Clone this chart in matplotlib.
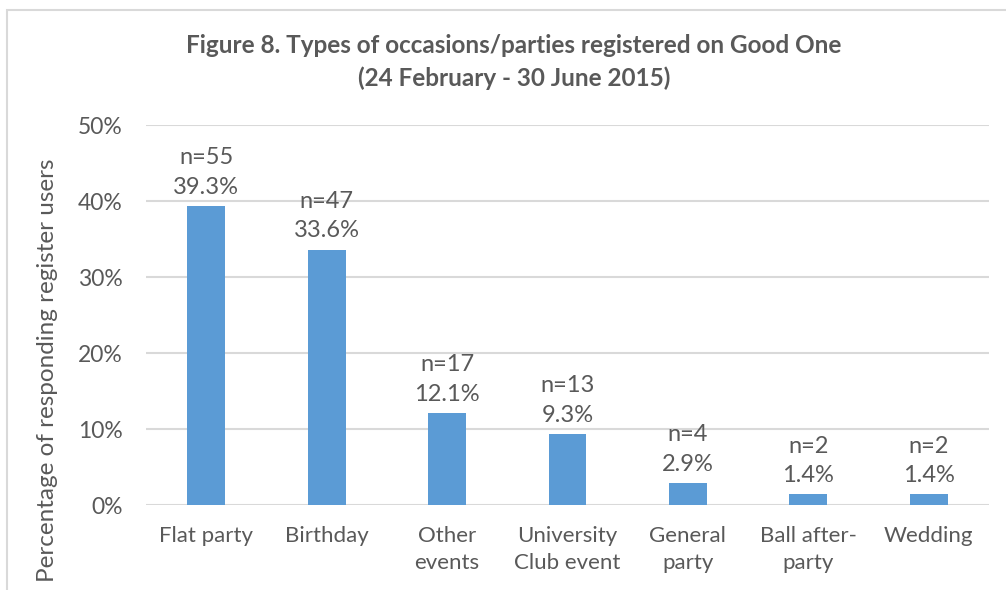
import matplotlib
matplotlib.use("Agg")
import matplotlib.pyplot as plt
from matplotlib.patches import Rectangle

# Chart data
categories = ["Flat party", "Birthday", "Other\nevents", "University\nClub event",
              "General\nparty", "Ball after-\nparty", "Wedding"]
percentages = [39.3, 33.6, 12.1, 9.3, 2.9, 1.4, 1.4]
counts = [55, 47, 17, 13, 4, 2, 2]
y_ticks = [0, 10, 20, 30, 40, 50]

title = "Figure 8. Types of occasions/parties registered on Good One\n(24 February - 30 June 2015)"
y_label = "Percentage of responding register users"

bar_color = "#5B9BD5"
text_color = "#595959"
grid_color = "#D9D9D9"
font = "Lato"

fig = plt.figure(figsize=(10.06, 5.90), dpi=100)
W, H = 1006, 590

# light chart frame (cropped on the right and bottom)
fig.patches.append(Rectangle((7 / W, -0.1), 1.2, 1.1 - 10 / H, transform=fig.transFigure,
                             fill=False, edgecolor="#D9D9D9", linewidth=1.5))

# plot area in pixels: x 146..989, y 125..505
ax = fig.add_axes([146 / W, 1 - 505 / H, (989 - 146) / W, (505 - 125) / H])

x = list(range(len(categories)))
ax.bar(x, percentages, width=0.315, color=bar_color, zorder=3)

ax.set_xlim(-0.5, len(categories) - 0.5)
ax.set_ylim(0, 50)
ax.set_yticks(y_ticks)
ax.set_yticklabels([f"{t}%" for t in y_ticks], fontsize=16.5, color=text_color, family=font)
ax.set_xticks(x)
ax.set_xticklabels(categories, fontsize=16, color=text_color, family=font, linespacing=1.45)
ax.tick_params(axis="both", length=0)
ax.tick_params(axis="y", pad=17)
ax.tick_params(axis="x", pad=15)
ax.yaxis.grid(True, color=grid_color, linewidth=1.5, zorder=0)
for side in ["top", "right", "left", "bottom"]:
    ax.spines[side].set_visible(False)

for xi, p, n in zip(x, percentages, counts):
    ax.annotate(f"n={n}\n{p:.1f}%", (xi, p), xytext=(0, 6), textcoords="offset points",
                ha="center", va="bottom", fontsize=17, color=text_color, family=font,
                linespacing=1.5, zorder=4)

fig.text(514 / W, 1 - 62 / H, title, ha="center", va="center", fontsize=17.5,
         fontweight="bold", color=text_color, family=font, linespacing=1.5)
fig.text(48 / W, 1 - 370 / H, y_label, ha="center", va="center", rotation=90,
         fontsize=17.5, color=text_color, family=font)

fig.savefig("out.png", dpi=100)
